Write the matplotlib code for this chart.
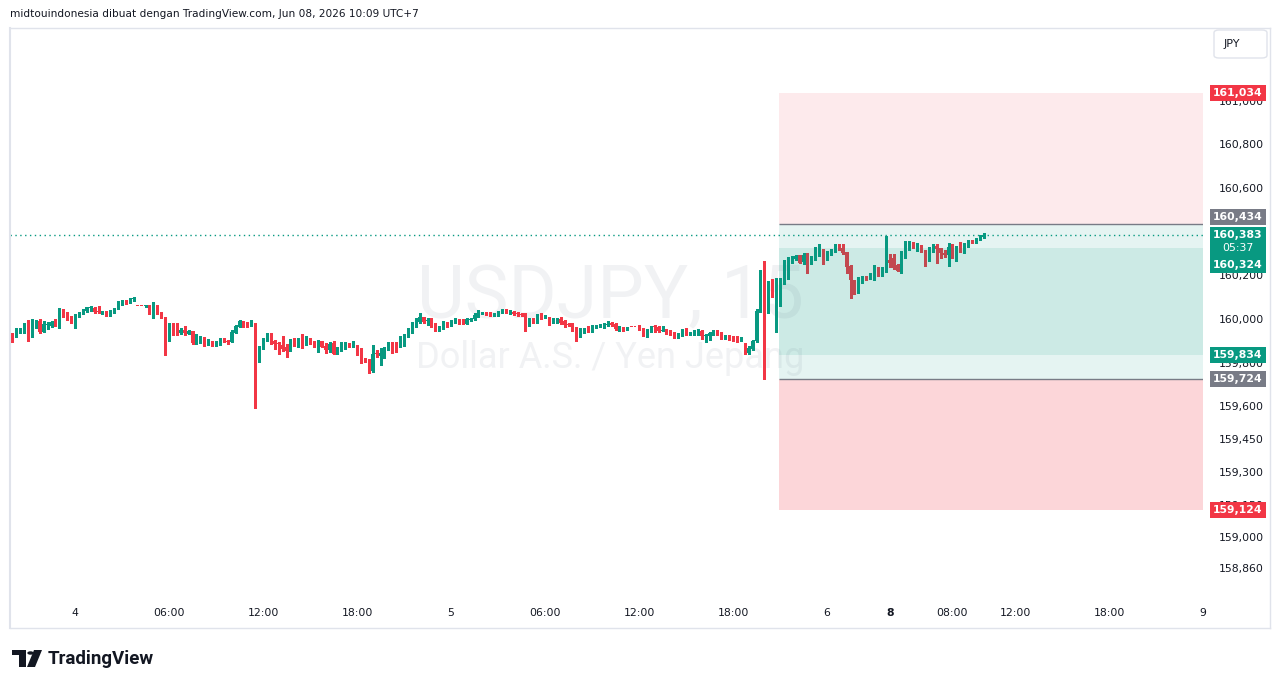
import matplotlib
matplotlib.use("Agg")
import matplotlib.pyplot as plt
import numpy as np
from matplotlib.patches import Rectangle, FancyBboxPatch, Polygon, Circle

W, H = 1281, 688

# ---------------- data (USDJPY 15m) ----------------
first_bar = -17  # bar index of the first candle (index 0 = Jun 4 00:00)
opens = [
    159.881, 159.927, 159.916, 159.945, 159.942, 159.977, 159.934, 159.973, 159.991, 159.942,
    159.971, 159.969, 159.983, 159.968, 160.031, 160.015, 160.011, 159.983, 160.011, 160.026,
    160.038, 160.049, 160.052, 160.037, 160.034, 160.037, 160.018, 160.029, 160.049, 160.075,
    160.079, 160.076, 160.090, 160.061, 160.061, 160.058, 160.060, 160.008, 160.053, 160.029,
    160.011, 159.919, 159.960, 159.953, 159.934, 159.950, 159.931, 159.947, 159.889, 159.907,
    159.911, 159.892, 159.896, 159.889, 159.882, 159.899, 159.899, 159.896, 159.937, 159.965,
    159.988, 159.977, 159.969, 159.983, 159.812, 159.869, 159.908, 159.922, 159.899, 159.889,
    159.881, 159.870, 159.855, 159.904, 159.881, 159.893, 159.885, 159.907, 159.899, 159.873,
    159.899, 159.876, 159.858, 159.892, 159.840, 159.855, 159.864, 159.884, 159.879, 159.876,
    159.847, 159.820, 159.812, 159.763, 159.843, 159.832, 159.843, 159.863, 159.895, 159.879,
    159.870, 159.919, 159.919, 159.942, 159.968, 159.988, 160.008, 159.992, 159.998, 159.977,
    159.953, 159.957, 159.983, 159.969, 159.985, 159.995, 159.995, 159.977, 159.995, 160.000,
    160.014, 160.026, 160.031, 160.026, 160.018, 160.018, 160.031, 160.044, 160.026, 160.034,
    160.026, 160.023, 160.018, 159.973, 160.000, 159.983, 160.018, 160.011, 160.006, 159.992,
    159.983, 160.000, 159.991, 159.977, 159.977, 159.960, 159.937, 159.939, 159.962, 159.947,
    159.962, 159.965, 159.962, 159.973, 159.983, 159.977, 159.957, 159.960, 159.956, 159.965,
    159.965, 159.968, 159.957, 159.937, 159.942, 159.968, 159.965, 159.947, 159.953, 159.942,
    159.937, 159.915, 159.927, 159.953, 159.931, 159.931, 159.931, 159.945, 159.922, 159.924,
    159.931, 159.945, 159.937, 159.908, 159.922, 159.915, 159.919, 159.904, 159.889, 159.843,
    159.861, 159.901, 160.034, 160.215, 160.060, 160.166, 160.102, 160.145, 160.163, 160.220,
    160.263, 160.273, 160.293, 160.260, 160.293, 160.263, 160.275, 160.293, 160.321, 160.281,
    160.296, 160.308, 160.336, 160.327, 160.305, 160.243, 160.179, 160.160, 160.179, 160.194,
    160.186, 160.182, 160.232, 160.202, 160.224, 160.270, 160.281, 160.247, 160.212, 160.285,
    160.331, 160.344, 160.336, 160.339, 160.311, 160.270, 160.324, 160.336, 160.324, 160.304,
    160.293, 160.327, 160.305, 160.327, 160.316, 160.336, 160.359, 160.350, 160.366, 160.374,
]
highs = [
    159.922, 159.934, 159.957, 159.960, 159.983, 159.995, 159.998, 159.995, 159.998, 159.991,
    159.988, 159.992, 159.998, 160.049, 160.044, 160.031, 160.014, 160.023, 160.031, 160.044,
    160.056, 160.060, 160.056, 160.061, 160.037, 160.037, 160.041, 160.052, 160.082, 160.087,
    160.087, 160.095, 160.102, 160.061, 160.061, 160.063, 160.064, 160.078, 160.064, 160.032,
    160.011, 159.980, 159.980, 159.980, 159.960, 159.968, 159.950, 159.947, 159.930, 159.924,
    159.919, 159.907, 159.899, 159.899, 159.911, 159.911, 159.904, 159.950, 159.971, 159.994,
    159.991, 159.985, 159.995, 159.983, 159.876, 159.913, 159.934, 159.934, 159.904, 159.896,
    159.922, 159.885, 159.907, 159.911, 159.911, 159.931, 159.922, 159.915, 159.901, 159.904,
    159.901, 159.889, 159.893, 159.899, 159.870, 159.893, 159.893, 159.889, 159.899, 159.881,
    159.869, 159.823, 159.815, 159.881, 159.858, 159.866, 159.873, 159.895, 159.895, 159.893,
    159.922, 159.931, 159.957, 159.988, 160.003, 160.029, 160.011, 160.003, 160.003, 159.980,
    159.968, 159.991, 159.988, 159.995, 160.003, 159.998, 159.998, 160.003, 160.003, 160.026,
    160.041, 160.034, 160.034, 160.031, 160.026, 160.037, 160.046, 160.046, 160.041, 160.037,
    160.031, 160.026, 160.026, 160.003, 160.003, 160.021, 160.026, 160.018, 160.011, 160.006,
    160.003, 160.011, 159.995, 159.980, 159.980, 159.962, 159.957, 159.960, 159.968, 159.973,
    159.973, 159.976, 159.980, 159.992, 159.988, 159.980, 159.968, 159.965, 159.965, 159.965,
    159.965, 159.973, 159.960, 159.954, 159.968, 159.973, 159.968, 159.968, 159.956, 159.950,
    159.942, 159.934, 159.954, 159.957, 159.942, 159.950, 159.954, 159.950, 159.930, 159.942,
    159.950, 159.950, 159.942, 159.927, 159.927, 159.922, 159.922, 159.916, 159.892, 159.876,
    159.904, 160.044, 160.224, 160.266, 160.176, 160.182, 160.186, 160.186, 160.270, 160.285,
    160.289, 160.293, 160.293, 160.301, 160.301, 160.289, 160.331, 160.344, 160.321, 160.311,
    160.321, 160.342, 160.344, 160.344, 160.305, 160.247, 160.179, 160.194, 160.197, 160.198,
    160.209, 160.247, 160.237, 160.240, 160.380, 160.298, 160.298, 160.250, 160.311, 160.357,
    160.357, 160.351, 160.347, 160.339, 160.316, 160.331, 160.344, 160.344, 160.327, 160.316,
    160.347, 160.344, 160.334, 160.354, 160.347, 160.362, 160.362, 160.373, 160.385, 160.392,
]
lows = [
    159.881, 159.896, 159.916, 159.934, 159.937, 159.901, 159.919, 159.960, 159.937, 159.942,
    159.953, 159.965, 159.968, 159.957, 160.008, 159.995, 159.980, 159.957, 160.008, 160.023,
    160.034, 160.038, 160.029, 160.029, 160.021, 160.015, 160.014, 160.026, 160.046, 160.064,
    160.069, 160.072, 160.084, 160.060, 160.060, 160.053, 160.023, 160.005, 160.023, 160.005,
    159.835, 159.901, 159.927, 159.927, 159.931, 159.927, 159.930, 159.885, 159.885, 159.892,
    159.876, 159.881, 159.878, 159.878, 159.882, 159.893, 159.885, 159.896, 159.935, 159.963,
    159.965, 159.965, 159.968, 159.592, 159.802, 159.863, 159.899, 159.884, 159.863, 159.840,
    159.853, 159.827, 159.855, 159.878, 159.873, 159.869, 159.882, 159.885, 159.870, 159.850,
    159.870, 159.846, 159.850, 159.840, 159.840, 159.852, 159.863, 159.870, 159.873, 159.835,
    159.800, 159.802, 159.754, 159.759, 159.824, 159.789, 159.820, 159.858, 159.846, 159.850,
    159.870, 159.878, 159.919, 159.937, 159.965, 159.983, 159.980, 159.973, 159.965, 159.945,
    159.947, 159.953, 159.965, 159.968, 159.980, 159.977, 159.976, 159.976, 159.992, 159.995,
    160.011, 160.023, 160.018, 160.015, 160.014, 160.015, 160.026, 160.029, 160.023, 160.018,
    160.015, 160.014, 159.947, 159.968, 159.980, 159.980, 160.000, 160.003, 159.973, 159.983,
    159.980, 159.977, 159.965, 159.968, 159.947, 159.901, 159.916, 159.937, 159.942, 159.942,
    159.957, 159.962, 159.957, 159.968, 159.968, 159.950, 159.947, 159.945, 159.950, 159.962,
    159.962, 159.950, 159.922, 159.919, 159.942, 159.942, 159.942, 159.945, 159.931, 159.927,
    159.915, 159.913, 159.924, 159.927, 159.927, 159.927, 159.927, 159.907, 159.896, 159.904,
    159.927, 159.927, 159.907, 159.907, 159.904, 159.901, 159.896, 159.901, 159.838, 159.840,
    159.858, 159.896, 160.031, 159.725, 160.029, 160.102, 159.942, 160.060, 160.160, 160.183,
    160.258, 160.270, 160.255, 160.250, 160.212, 160.250, 160.270, 160.290, 160.252, 160.272,
    160.293, 160.305, 160.316, 160.298, 160.209, 160.095, 160.113, 160.121, 160.166, 160.179,
    160.182, 160.179, 160.198, 160.198, 160.217, 160.237, 160.229, 160.218, 160.209, 160.281,
    160.316, 160.327, 160.313, 160.305, 160.244, 160.266, 160.305, 160.258, 160.281, 160.282,
    160.243, 160.281, 160.267, 160.305, 160.301, 160.331, 160.347, 160.347, 160.362, 160.373,
]
closes = [
    159.922, 159.922, 159.947, 159.950, 159.977, 159.934, 159.980, 159.988, 159.942, 159.976,
    159.976, 159.985, 159.969, 160.031, 160.011, 160.011, 159.983, 160.014, 160.026, 160.041,
    160.053, 160.052, 160.034, 160.034, 160.037, 160.018, 160.034, 160.049, 160.079, 160.079,
    160.076, 160.092, 160.095, 160.060, 160.060, 160.061, 160.026, 160.060, 160.026, 160.008,
    159.919, 159.957, 159.934, 159.930, 159.950, 159.934, 159.947, 159.889, 159.911, 159.911,
    159.889, 159.896, 159.881, 159.892, 159.901, 159.896, 159.893, 159.939, 159.968, 159.991,
    159.969, 159.971, 159.983, 159.812, 159.870, 159.911, 159.927, 159.893, 159.885, 159.884,
    159.863, 159.855, 159.904, 159.881, 159.893, 159.890, 159.907, 159.893, 159.873, 159.899,
    159.873, 159.858, 159.885, 159.840, 159.858, 159.869, 159.884, 159.879, 159.884, 159.846,
    159.817, 159.808, 159.766, 159.840, 159.838, 159.846, 159.869, 159.895, 159.870, 159.876,
    159.916, 159.924, 159.947, 159.973, 159.988, 160.011, 159.988, 159.995, 159.968, 159.957,
    159.962, 159.983, 159.969, 159.988, 160.000, 159.980, 159.980, 160.000, 160.000, 160.018,
    160.034, 160.031, 160.026, 160.023, 160.023, 160.034, 160.044, 160.034, 160.037, 160.023,
    160.021, 160.018, 159.977, 159.998, 159.983, 160.018, 160.003, 160.015, 159.977, 159.995,
    160.000, 159.983, 159.973, 159.973, 159.953, 159.939, 159.954, 159.957, 159.947, 159.969,
    159.969, 159.973, 159.980, 159.977, 159.973, 159.953, 159.962, 159.956, 159.962, 159.962,
    159.962, 159.953, 159.934, 159.947, 159.965, 159.965, 159.947, 159.950, 159.937, 159.937,
    159.916, 159.931, 159.950, 159.930, 159.937, 159.942, 159.950, 159.922, 159.927, 159.934,
    159.945, 159.931, 159.911, 159.922, 159.907, 159.908, 159.904, 159.911, 159.847, 159.869,
    159.901, 160.038, 160.221, 160.060, 160.166, 160.105, 160.145, 160.166, 160.237, 160.273,
    160.278, 160.289, 160.258, 160.293, 160.263, 160.281, 160.296, 160.316, 160.281, 160.296,
    160.311, 160.336, 160.321, 160.301, 160.240, 160.179, 160.159, 160.183, 160.194, 160.182,
    160.191, 160.235, 160.202, 160.235, 160.321, 160.255, 160.232, 160.221, 160.281, 160.336,
    160.344, 160.331, 160.342, 160.308, 160.270, 160.327, 160.339, 160.321, 160.301, 160.293,
    160.328, 160.308, 160.324, 160.324, 160.336, 160.359, 160.350, 160.369, 160.382, 160.383,
]

xtick_pos = [0, 24, 48, 72, 96, 120, 144, 168, 192, 208, 224, 240, 264, 288]
xtick_labels = ["4", "06:00", "12:00", "18:00", "5", "06:00", "12:00", "18:00",
                "6", "8", "08:00", "12:00", "18:00", "9"]
ytick_vals = [161.0, 160.8, 160.6, 160.2, 160.0, 159.8, 159.6,
              159.45, 159.3, 159.15, 159.0, 158.86]

# position tool levels
box_start_bar = 179.7
stop_top = 161.034
entry_top = 160.434
fill_top = 160.324
fill_bottom = 159.834
entry_bottom = 159.724
stop_bottom = 159.124
last_price = 160.383
countdown = "05:37"

symbol_text = "USDJPY, 15"
desc_text = "Dollar A.S. / Yen Jepang"
header_text = "midtouindonesia dibuat dengan TradingView.com, Jun 08, 2026 10:09 UTC+7"

UP = "#089981"
DOWN = "#F23645"
GRAY = "#787B86"
TXT = "#131722"
BORDER = "#E0E3EB"

# ---------------- figure ----------------
fig = plt.figure(figsize=(W / 100, H / 100), dpi=100)
fig.patch.set_facecolor("white")

def fx(px):
    return px / W

def fy(py):
    return 1 - py / H

ax_left, ax_right, ax_top, ax_bottom = 10, 1203.3, 28, 600
ax = fig.add_axes([fx(ax_left), fy(ax_bottom), (ax_right - ax_left) / W, (ax_bottom - ax_top) / H])
ax.set_facecolor("white")
x_lo, x_hi = -16.6, 288.05
y_lo, y_hi = 158.7128, 161.333
ax.set_xlim(x_lo, x_hi)
ax.set_ylim(y_lo, y_hi)
for s in ax.spines.values():
    s.set_visible(False)

o = np.array(opens); h = np.array(highs); l = np.array(lows); c = np.array(closes)
idx = np.arange(len(c)) + first_bar
cols = np.where(c >= o, UP, DOWN)

ax.vlines(idx, l, h, colors=cols, lw=1.0, zorder=2, antialiased=False)
ax.bar(idx, np.maximum(np.abs(c - o), 0.0046), bottom=np.minimum(o, c), width=0.66,
       color=cols, linewidth=0, zorder=2.1, antialiased=False)

# watermark
ax.text(0.503, 0.493, symbol_text, transform=ax.transAxes, ha="center", va="baseline",
        fontsize=53, family="Roboto", color="#F1F2F4", zorder=0)
ax.text(0.503, 0.4056, desc_text, transform=ax.transAxes, ha="center", va="baseline",
        fontsize=26, family="Roboto", color="#F1F2F4", zorder=0)

# position tool
bw = x_hi - box_start_bar
ax.add_patch(Rectangle((box_start_bar, entry_top), bw, stop_top - entry_top, fc=DOWN, alpha=0.1, lw=0, zorder=3))
ax.add_patch(Rectangle((box_start_bar, stop_bottom), bw, entry_bottom - stop_bottom, fc=DOWN, alpha=0.2, lw=0, zorder=3))
ax.add_patch(Rectangle((box_start_bar, entry_bottom), bw, entry_top - entry_bottom, fc=UP, alpha=0.1, lw=0, zorder=3))
ax.add_patch(Rectangle((box_start_bar, fill_bottom), bw, fill_top - fill_bottom, fc=UP, alpha=0.11, lw=0, zorder=3))
ax.hlines([entry_top, entry_bottom], box_start_bar, x_hi, colors=GRAY, lw=1.0, zorder=4)

# last price dotted line
ax.axhline(last_price, color=UP, lw=1.0, ls=(0, (1, 2.5)), zorder=4)

# axes ticks
ax.set_xticks(xtick_pos)
ax.set_xticklabels(xtick_labels)
ax.tick_params(axis="x", length=0, pad=6, labelsize=7.8, labelcolor=TXT)
for t, lab in zip(ax.get_xticklabels(), xtick_labels):
    if lab == "8":
        t.set_fontweight("bold")
ax.yaxis.tick_right()
ax.set_yticks(ytick_vals)
ax.set_yticklabels([f"{v:.3f}".replace(".", ",") for v in ytick_vals])
ax.tick_params(axis="y", length=0, pad=11, labelsize=7.8, labelcolor=TXT)

# ---------------- decorations (figure pixels) ----------------
def frect(x0, y0, x1, y1, **kw):
    fig.add_artist(Rectangle((fx(x0), fy(y1)), (x1 - x0) / W, (y1 - y0) / H,
                             transform=fig.transFigure, **kw))

def fline(x0, y0, x1, y1, **kw):
    fig.add_artist(plt.Line2D([fx(x0), fx(x1)], [fy(y0), fy(y1)], transform=fig.transFigure, **kw))

# panel borders
fline(10, 28, 1270, 28, color=BORDER, lw=1)
fline(10, 628, 1270, 628, color=BORDER, lw=1)
fline(10, 28, 10, 628, color=BORDER, lw=1.5)
fline(1270, 28, 1270, 628, color=BORDER, lw=1)

fig.text(fx(10), fy(14), header_text, fontsize=7.6, color=TXT, va="center", ha="left")

# JPY button
fig.add_artist(FancyBboxPatch((fx(1214), fy(58)), 53 / W, 28 / H, boxstyle="round,pad=0,rounding_size=0.004",
                              transform=fig.transFigure, fc="white", ec=BORDER, lw=1))
fig.text(fx(1232), fy(44), "JPY", fontsize=8, color=TXT, ha="center", va="center")

# price badges
def price_py(p):
    disp = ax.transData.transform((0, p))[1]
    return H - disp

def badge(p, color, label, shift=0, height=16, bold=True):
    cy = price_py(p) + shift
    frect(1210, cy - height / 2, 1266, cy + height / 2, fc=color, ec="none", zorder=10)
    fig.text(fx(1238), fy(cy), label, color="white", fontsize=7.8, ha="center", va="center",
             fontweight="bold" if bold else "normal", zorder=11)

def fmt(p):
    return f"{p:.3f}".replace(".", ",")

badge(stop_top, DOWN, fmt(stop_top))
badge(entry_top, GRAY, fmt(entry_top), shift=-7)
# last price + countdown
cy_last = price_py(last_price)
frect(1210, cy_last - 8, 1266, cy_last + 22, fc=UP, ec="none", zorder=10)
fig.text(fx(1238), fy(cy_last), fmt(last_price), color="white", fontsize=7.8, ha="center", va="center",
         fontweight="bold", zorder=11)
fig.text(fx(1238), fy(cy_last + 13), countdown, color="white", fontsize=7.8, ha="center", va="center", zorder=11)
badge(fill_top, UP, fmt(fill_top), shift=17)
badge(fill_bottom, UP, fmt(fill_bottom))
badge(entry_bottom, GRAY, fmt(entry_bottom))
badge(stop_bottom, DOWN, fmt(stop_bottom))

# TradingView logo
frect(12, 650, 26, 655, fc="#131722", ec="none")
frect(19, 650, 26, 667, fc="#131722", ec="none")
fig.add_artist(Circle((fx(30.5), fy(653)), 3.2 / W, transform=fig.transFigure, fc="#131722", ec="none"))
fig.add_artist(Polygon([(fx(34), fy(650)), (fx(42), fy(650)), (fx(35), fy(667)), (fx(27), fy(667))],
                       closed=True, transform=fig.transFigure, fc="#131722", ec="none"))
fig.text(fx(48), fy(658.5), "TradingView", fontsize=13.5, family="Roboto", fontweight="bold",
         color="#131722", ha="left", va="center")

fig.savefig("out.png", dpi=100, facecolor="white")
